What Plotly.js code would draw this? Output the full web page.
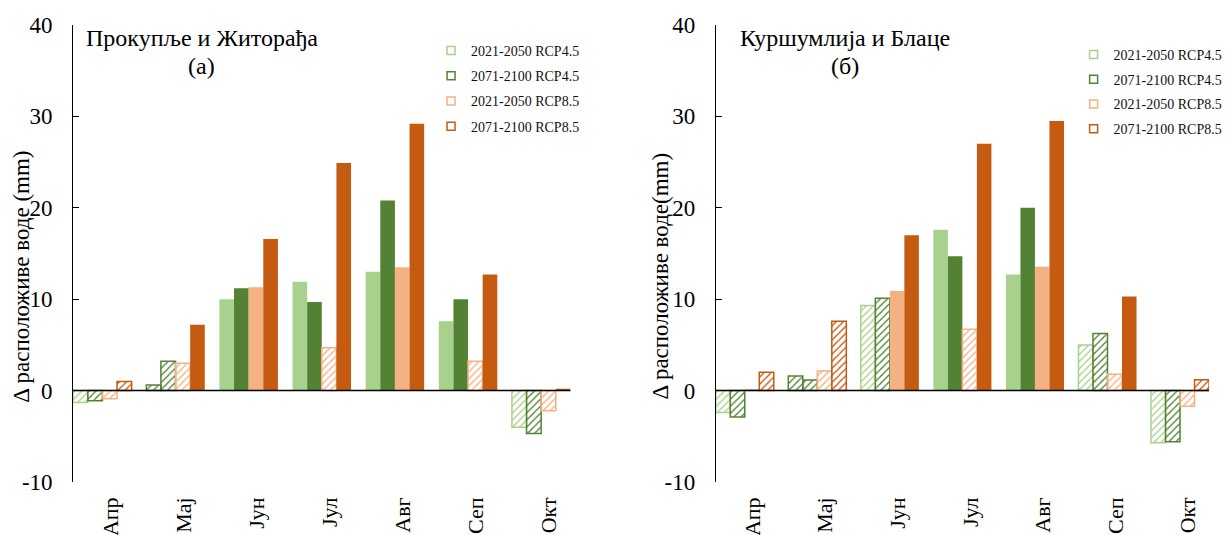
<!DOCTYPE html>
<html>
<head>
<meta charset="utf-8">
<script src="https://cdn.plot.ly/plotly-3.0.1.min.js"></script>
<style>html,body{margin:0;padding:0;background:#fff;}#chart{width:1228px;height:535px;}</style>
</head>
<body>
<div id="chart"></div>
<script>
// ---- data ----
const months = ['Апр', 'Мај', 'Јун', 'Јул', 'Авг', 'Сеп', 'Окт'];
const seriesNames = ['2021-2050 RCP4.5', '2071-2100 RCP4.5', '2021-2050 RCP8.5', '2071-2100 RCP8.5'];
const yTickVals = [-10, 0, 10, 20, 30, 40];
const yTickText = ['-10', '0', '10', '20', '30', '40'];

// Panel (а) Прокупље и Житорађа
const a_rcp45_2021 = [-1.3, 0.6, 10.0, 11.9, 13.0, 7.6, -4.0];
const a_rcp45_2071 = [-1.1, 3.2, 11.2, 9.7, 20.8, 10.0, -4.7];
const a_rcp85_2021 = [-0.9, 3.0, 11.3, 4.7, 13.5, 3.2, -2.2];
const a_rcp85_2071 = [1.0, 7.2, 16.6, 24.9, 29.2, 12.7, 0.2];
// hatched (non-significant) flags
const a_hatch_45_2021 = [1, 1, 0, 0, 0, 0, 1];
const a_hatch_45_2071 = [1, 1, 0, 0, 0, 0, 1];
const a_hatch_85_2021 = [1, 1, 0, 1, 0, 1, 1];
const a_hatch_85_2071 = [1, 0, 0, 0, 0, 0, 0];

// Panel (б) Куршумлија и Блаце
const b_rcp45_2021 = [-2.4, 1.6, 9.3, 17.6, 12.7, 5.0, -5.7];
const b_rcp45_2071 = [-2.9, 1.15, 10.1, 14.7, 20.0, 6.25, -5.6];
const b_rcp85_2021 = [0.1, 2.15, 10.9, 6.7, 13.55, 1.8, -1.7];
const b_rcp85_2071 = [2.0, 7.6, 17.0, 27.0, 29.5, 10.3, 1.2];
const b_hatch_45_2021 = [1, 1, 1, 0, 0, 1, 1];
const b_hatch_45_2071 = [1, 1, 1, 0, 0, 1, 1];
const b_hatch_85_2021 = [1, 1, 0, 1, 0, 1, 1];
const b_hatch_85_2071 = [1, 1, 0, 0, 0, 0, 1];

// ---- styles ----
const colors = ['#A9D18E', '#548235', '#F4B183', '#C55A11'];
const FONT = 'Liberation Serif, Times New Roman, serif';

function barTrace(name, vals, hatch, color, xa, ya, colorOverride) {
  const cols = vals.map((v, i) => (colorOverride && colorOverride[i]) ? colorOverride[i] : color);
  return {
    type: 'bar', name: name, x: months, y: vals, xaxis: xa, yaxis: ya,
    showlegend: false, hoverinfo: 'x+y+name',
    marker: {
      color: cols,
      line: { color: cols, width: hatch.map(h => h ? 1.5 : 0) },
      pattern: { shape: hatch.map(h => h ? '/' : ''), size: 5, solidity: 0.28, fillmode: 'replace' }
    }
  };
}
function legendTrace(name, color, xa, ya, leg, grp) {
  return {
    type: 'scatter', mode: 'markers', name: name, x: [null], y: [null], xaxis: xa, yaxis: ya,
    legend: leg, legendgroup: grp, showlegend: true, hoverinfo: 'skip',
    marker: { symbol: 'square-open', size: 8, color: color, line: { width: 1.5, color: color } }
  };
}
// the light-green May bar is drawn with the dark-green outline in the original
const mayDark = [null, colors[1], null, null, null, null, null];

const traces = [
  barTrace(seriesNames[0], a_rcp45_2021, a_hatch_45_2021, colors[0], 'x', 'y', mayDark),
  barTrace(seriesNames[1], a_rcp45_2071, a_hatch_45_2071, colors[1], 'x', 'y'),
  barTrace(seriesNames[2], a_rcp85_2021, a_hatch_85_2021, colors[2], 'x', 'y'),
  barTrace(seriesNames[3], a_rcp85_2071, a_hatch_85_2071, colors[3], 'x', 'y'),
  barTrace(seriesNames[0], b_rcp45_2021, b_hatch_45_2021, colors[0], 'x2', 'y2', mayDark),
  barTrace(seriesNames[1], b_rcp45_2071, b_hatch_45_2071, colors[1], 'x2', 'y2'),
  barTrace(seriesNames[2], b_rcp85_2021, b_hatch_85_2021, colors[2], 'x2', 'y2'),
  barTrace(seriesNames[3], b_rcp85_2071, b_hatch_85_2071, colors[3], 'x2', 'y2')
];
seriesNames.forEach((n, i) => traces.push(legendTrace(n, colors[i], 'x', 'y', 'legend', 'a' + i)));
seriesNames.forEach((n, i) => traces.push(legendTrace(n, colors[i], 'x2', 'y2', 'legend2', 'b' + i)));

const W = 1228, H = 535;
const px = v => v / W, py = v => 1 - v / H;
const yDom = [py(482), py(25)];

function xAxis(d0, d1) {
  return {
    domain: [px(d0), px(d1)], type: 'category', range: [-0.4, 6.4],
    showline: false, ticks: '', showgrid: false, zeroline: false,
    tickangle: -90, tickfont: { family: FONT, size: 22, color: '#000' },
    ticklabelstandoff: 10, ticklabelshift: 8, fixedrange: true
  };
}
function yAxis(anchor) {
  return {
    domain: yDom, anchor: anchor, range: [-10, 40],
    tickmode: 'array', tickvals: yTickVals, ticktext: yTickText,
    ticks: 'inside', ticklen: 6, tickwidth: 1, tickcolor: '#000',
    showline: true, linecolor: '#000', linewidth: 1,
    showgrid: false, zeroline: false,
    tickfont: { family: FONT, size: 23, color: '#000' },
    ticklabelstandoff: 15, fixedrange: true
  };
}

const layout = {
  width: W, height: H, margin: { l: 0, r: 0, t: 0, b: 0 },
  paper_bgcolor: '#fff', plot_bgcolor: 'rgba(0,0,0,0)',
  font: { family: FONT, color: '#000' },
  barmode: 'group', bargap: 0.2, bargroupgap: 0,
  xaxis: Object.assign(xAxis(74, 577), { anchor: 'y' }),
  yaxis: yAxis('x'),
  xaxis2: Object.assign(xAxis(724, 1223), { anchor: 'y2' }),
  yaxis2: yAxis('x2'),
  legend: {
    x: px(436), y: py(35), xanchor: 'left', yanchor: 'top',
    font: { family: FONT, size: 14, color: '#111' }, tracegroupgap: 4,
    bgcolor: 'rgba(0,0,0,0)', borderwidth: 0
  },
  legend2: {
    x: px(1086), y: py(39), xanchor: 'left', yanchor: 'top',
    font: { family: FONT, size: 14, color: '#111' }, tracegroupgap: 3.5,
    bgcolor: 'rgba(0,0,0,0)', borderwidth: 0
  },
  shapes: [
    { type: 'line', xref: 'x domain', yref: 'y', x0: 0, x1: 1, y0: 0, y1: 0, line: { color: '#000', width: 1.5 }, layer: 'above' },
    { type: 'line', xref: 'x2 domain', yref: 'y2', x0: 0, x1: 1, y0: 0, y1: 0, line: { color: '#000', width: 1.5 }, layer: 'above' }
  ],
  annotations: [
    { text: 'Прокупље и Житорађа', xref: 'paper', yref: 'paper', x: px(204), y: py(38), xanchor: 'center', yanchor: 'middle', showarrow: false, font: { family: FONT, size: 24, color: '#000' } },
    { text: '(а)', xref: 'paper', yref: 'paper', x: px(204), y: py(66), xanchor: 'center', yanchor: 'middle', showarrow: false, font: { family: FONT, size: 24, color: '#000' } },
    { text: 'Куршумлија и Блаце', xref: 'paper', yref: 'paper', x: px(855), y: py(38), xanchor: 'center', yanchor: 'middle', showarrow: false, font: { family: FONT, size: 24, color: '#000' } },
    { text: '(б)', xref: 'paper', yref: 'paper', x: px(855), y: py(66), xanchor: 'center', yanchor: 'middle', showarrow: false, font: { family: FONT, size: 24, color: '#000' } },
    { text: 'Δ расположиве воде (mm)', xref: 'paper', yref: 'paper', x: px(21), y: py(277), xanchor: 'center', yanchor: 'middle', textangle: -90, showarrow: false, font: { family: FONT, size: 23, color: '#000' } },
    { text: 'Δ расположиве воде(mm)', xref: 'paper', yref: 'paper', x: px(668), y: py(276), xanchor: 'center', yanchor: 'middle', textangle: -90, showarrow: false, font: { family: FONT, size: 23, color: '#000' } }
  ]
};

Plotly.newPlot('chart', traces, layout, { displayModeBar: false, staticPlot: true });
</script>
</body>
</html>
